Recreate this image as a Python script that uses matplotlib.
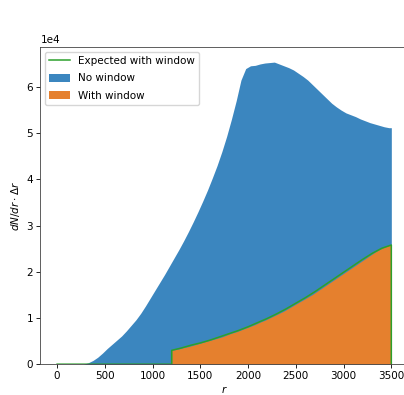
import numpy as np
import matplotlib
matplotlib.use("Agg")
import matplotlib.pyplot as plt

# --- data (counts in units of 1e4, bins of width 50) ---
bin_width = 50
no_window_edges = np.arange(0, 3500, bin_width)
no_window = [
    0.0, 0.0, 0.0, 0.0, 0.0, 0.0, 0.03, 0.08, 0.15, 0.24,
    0.34, 0.43, 0.52, 0.61, 0.72, 0.84, 0.96, 1.10, 1.26, 1.43,
    1.60, 1.77, 1.94, 2.12, 2.30, 2.48, 2.67, 2.87, 3.08, 3.30,
    3.53, 3.77, 4.03, 4.30, 4.60, 4.93, 5.30, 5.70, 6.15, 6.40,
    6.46, 6.47, 6.50, 6.52, 6.53, 6.54, 6.50, 6.46, 6.42, 6.37,
    6.30, 6.23, 6.15, 6.05, 5.95, 5.85, 5.75, 5.65, 5.57, 5.50,
    5.44, 5.40, 5.36, 5.31, 5.27, 5.23, 5.20, 5.17, 5.14, 5.12,
]

with_window_edges = np.arange(1200, 3500, bin_width)
with_window = [
    0.31, 0.33, 0.36, 0.38, 0.41, 0.44, 0.47, 0.50, 0.53, 0.56,
    0.59, 0.63, 0.67, 0.70, 0.74, 0.78, 0.82, 0.86, 0.91, 0.95,
    1.00, 1.05, 1.10, 1.15, 1.21, 1.27, 1.33, 1.39, 1.45, 1.51,
    1.58, 1.65, 1.72, 1.79, 1.86, 1.93, 2.00, 2.07, 2.14, 2.21,
    2.28, 2.35, 2.42, 2.48, 2.53, 2.57,
]

expected_r = [0, 1200, 1200, 1300, 1400, 1500, 1600, 1700, 1800, 1900, 2000,
              2100, 2200, 2300, 2400, 2500, 2600, 2700, 2800, 2900, 3000,
              3100, 3200, 3300, 3400, 3500, 3500]
expected = [0, 0, 0.30, 0.35, 0.41, 0.46, 0.52, 0.59, 0.66, 0.73, 0.81,
            0.90, 0.99, 1.09, 1.20, 1.32, 1.44, 1.57, 1.71, 1.85, 1.99,
            2.13, 2.27, 2.40, 2.51, 2.58, 0]

scale = 1e4


def hist_outline(edges, values):
    # fine-binned histogram outline: bin centres, closed at both bin edges
    x = np.concatenate([[edges[0]], edges + bin_width / 2, [edges[-1] + bin_width]])
    y = np.concatenate([[values[0]], values, [values[-1]]]) * scale
    return x, y


plt.rcParams['font.size'] = 7.5
plt.rcParams['axes.linewidth'] = 0.6
plt.rcParams['xtick.major.width'] = 0.6
plt.rcParams['ytick.major.width'] = 0.6
plt.rcParams['xtick.major.size'] = 2.6
plt.rcParams['ytick.major.size'] = 2.6
plt.rcParams['xtick.major.pad'] = 2.6
plt.rcParams['ytick.major.pad'] = 2.6

fig = plt.figure(figsize=(4.04, 3.95), dpi=100)
ax = fig.add_axes([0.1, 0.078, 0.91, 0.803])

ax.plot(expected_r, np.array(expected) * scale, color='tab:green', lw=1.1,
        label='Expected with window', zorder=3)
bx, by = hist_outline(no_window_edges, np.array(no_window))
ax.fill_between(bx, 0, by, color='#3b86bf', linewidth=0, label='No window')
ox, oy = hist_outline(with_window_edges, np.array(with_window))
ax.fill_between(ox, 0, oy, color='#e5802e', linewidth=0, label='With window')

ax.set_xlim(-175, 3675)
ax.set_ylim(0, 6.54 * scale * 1.05)
ax.set_xticks(np.arange(0, 3501, 500))
ax.set_xlabel('$r$', labelpad=2)
ax.set_ylabel(r'$dN/dr \cdot \Delta r$', labelpad=3)
ax.ticklabel_format(axis='y', style='sci', scilimits=(0, 0))
ax.legend(loc='upper left', fontsize=7.5, handlelength=2.0, handleheight=0.8,
          labelspacing=0.72, borderaxespad=0.45)

for s in ax.spines.values():
    s.set_color('#444444')

fig.savefig('out.png', dpi=100)
